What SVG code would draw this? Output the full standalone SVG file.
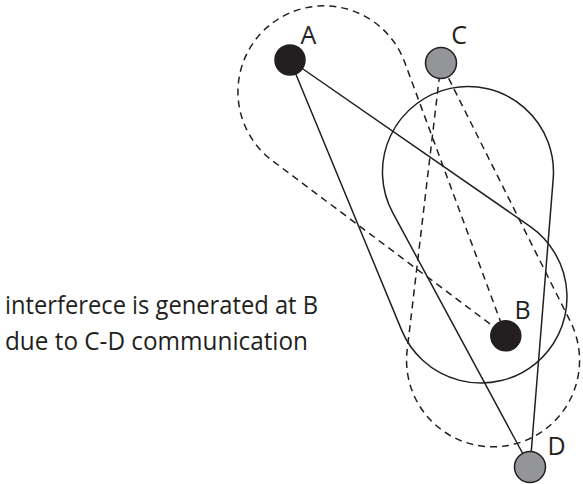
<svg xmlns="http://www.w3.org/2000/svg" width="583" height="484" viewBox="0 0 583 484">
  <style>
    .range { fill: none; stroke: #231f20; stroke-width: 1.5; stroke-linejoin: round; }
    .dash { stroke-dasharray: 7 5; }
    .node-black { fill: #231f20; stroke: #231f20; stroke-width: 1.5; }
    .node-gray { fill: #939598; stroke: #231f20; stroke-width: 1.5; }
    .label { font-family: "Open Sans", "Liberation Sans", sans-serif; font-size: 25px; fill: #231f20; }
  </style>
  <rect width="583" height="484" fill="#ffffff"/>
  <g id="connectors">
    <path class="range dash" d="M 505.8 335.8 L 404.7 62.3 A 86 86 0 1 0 272.4 160.7 Z"/>
    <path class="range dash" d="M 441 63 L 407.2 349.8 A 86.5 86.5 0 1 0 570.2 321.2 Z"/>
    <path class="range" d="M 290 60 L 401.5 329.9 A 86 86 0 1 0 530 226.4 Z"/>
    <path class="range" d="M 530 467 L 553.2 178.9 A 85.5 85.5 0 1 0 392.7 212.6 Z"/>
  </g>
  <g id="node-A">
    <circle class="node-black" cx="290" cy="60" r="15"/>
    <text class="label" x="308.5" y="43.5" text-anchor="middle">A</text>
  </g>
  <g id="node-C">
    <circle class="node-gray" cx="441" cy="63" r="15.5"/>
    <text class="label" x="459" y="43.5" text-anchor="middle">C</text>
  </g>
  <g id="node-B">
    <circle class="node-black" cx="505.8" cy="335.8" r="15"/>
    <text class="label" x="522.5" y="318.5" text-anchor="middle">B</text>
  </g>
  <g id="node-D">
    <circle class="node-gray" cx="530" cy="467" r="15.5"/>
    <text class="label" x="556.5" y="455" text-anchor="middle">D</text>
  </g>
  <g id="note">
    <text class="label" x="5" y="313.5" textLength="313" lengthAdjust="spacingAndGlyphs">interferece is generated at B</text>
    <text class="label" x="5" y="350" textLength="303" lengthAdjust="spacingAndGlyphs">due to C-D communication</text>
  </g>
</svg>
